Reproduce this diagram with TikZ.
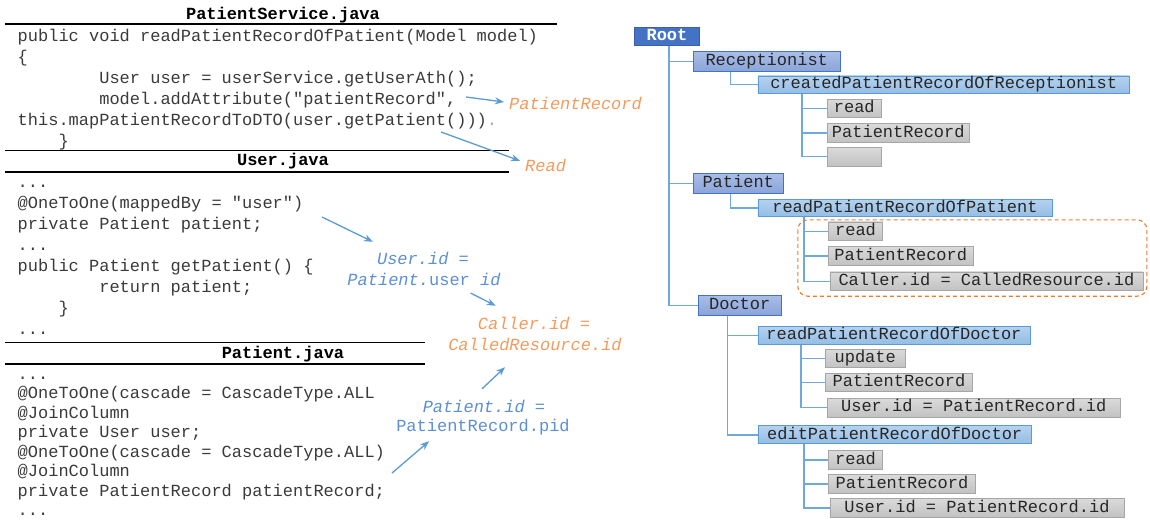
\documentclass[tikz,border=0pt]{standalone}
\usepackage{fontspec}
\setmonofont{Liberation Mono}
\usetikzlibrary{arrows.meta}

\definecolor{codegray}{HTML}{3A3A3A}
\definecolor{noteblue}{HTML}{5B8FD6}
\definecolor{noteorange}{HTML}{F59A5C}
\definecolor{linkblue}{HTML}{5B9BD5}
\definecolor{treeblue}{HTML}{6FA8DC}
\definecolor{rootblue}{HTML}{4472C4}
\definecolor{roletop}{HTML}{A9BDE6}
\definecolor{rolebot}{HTML}{8AA4D9}
\definecolor{roleedge}{HTML}{4472C4}
\definecolor{optop}{HTML}{B4D2EF}
\definecolor{opbot}{HTML}{95BDE4}
\definecolor{opedge}{HTML}{5B9BD5}
\definecolor{leaftop}{HTML}{DADADA}
\definecolor{leafbot}{HTML}{C2C2C2}
\definecolor{leafedge}{HTML}{A6A6A6}
\definecolor{focusorange}{HTML}{ED7D31}

\newcommand{\elide}{\mbox{...}}

\begin{document}
\begin{tikzpicture}[x=1pt, y=-1pt,
    every node/.style={font=\ttfamily\fontsize{17}{21}\selectfont},
    code/.style={anchor=base west, inner sep=0pt, text=codegray},
    head/.style={anchor=base, inner sep=0pt, font=\ttfamily\bfseries\fontsize{17}{21}\selectfont},
    rule/.style={line width=1.1pt},
    note/.style={anchor=base, inner sep=0pt, text height=12pt, text depth=4pt,
        font=\ttfamily\itshape\fontsize{17}{21}\selectfont},
    link/.style={draw=linkblue, line width=1.3pt, -{Stealth[length=9pt,width=7pt]}},
    box/.style={anchor=west, inner sep=0pt, text height=12pt, text depth=3.5pt,
        minimum height=18.5pt, line width=0.9pt, text=black!85},
    rootbox/.style={box, fill=rootblue, draw=rootblue!85!black, text=white,
        font=\ttfamily\bfseries\fontsize{17}{21}\selectfont},
    rolebox/.style={box, top color=roletop, bottom color=rolebot, draw=roleedge},
    opbox/.style={box, top color=optop, bottom color=opbot, draw=opedge},
    leafbox/.style={box, top color=leaftop, bottom color=leafbot, draw=leafedge},
    treeline/.style={draw=treeblue, line width=1.2pt},
    focus/.style={draw=focusorange, line width=1.1pt, dash pattern=on 4pt off 3pt, rounded corners=10pt}
]
    \useasboundingbox (0,0) rectangle (1150,520);

    % source listings
    \node[head] (hservice) at (283,19) {PatientService.java};
    \draw[rule] (5,24) -- (557,24);
    \foreach \t [count=\i from 0] in {%
        {public void readPatientRecordOfPatient(Model model)},
        {\{},
        {\phantom{xxxxxxxx}User user = userService.getUserAth();},
        {\phantom{xxxxxxxx}model.addAttribute("patientRecord",},
        {this.mapPatientRecordToDTO(user.getPatient())){\color{black!35}.}},
        {\phantom{xxxx}\}}}
        \node[code] (ps\i) at (17.5,41+21*\i) {\t};

    \draw[rule] (5,150.5) -- (509,150.5);
    \node[head] (huser) at (283,165) {User.java};
    \draw[rule] (5,172) -- (509,172);
    \foreach \t [count=\i from 0] in {%
        {\elide},
        {@OneToOne(mappedBy = "user")},
        {private Patient patient;},
        {\elide},
        {public Patient getPatient() \{},
        {\phantom{xxxxxxxx}return patient;},
        {\phantom{xxxx}\}},
        {\elide}}
        \node[code] (us\i) at (17.5,187+21*\i) {\t};

    \draw[rule] (5,342.5) -- (425,342.5);
    \node[head] (hpatient) at (283,358) {Patient.java};
    \draw[rule] (5,364) -- (425,364);
    \foreach \t [count=\i from 0] in {%
        {\elide},
        {@OneToOne(cascade = CascadeType.ALL},
        {@JoinColumn},
        {private User user;},
        {@OneToOne(cascade = CascadeType.ALL)},
        {@JoinColumn},
        {private PatientRecord patientRecord;},
        {\elide}}
        \node[code] (pa\i) at (17.5,379+19.5*\i) {\t};

    % mapping notes
    \node[note, anchor=base west, text=noteorange] (lrecord) at (509,109) {PatientRecord};
    \node[note, anchor=base west, text=noteorange] (lread) at (525,171) {Read};
    \node[note, text=noteblue] (luser) at (423,264) {User.id =};
    \node[note, text=noteblue] (luser2) at (424,285) {Patient.\textup{user} id};
    \node[note, text=noteorange] (lcaller) at (534,329) {Caller.id =};
    \node[note, text=noteorange] (lcaller2) at (535,350) {CalledResource.id};
    \node[note, text=noteblue] (lpid) at (484,412) {Patient.id =};
    \node[note, text=noteblue, font=\ttfamily\fontsize{17}{21}\selectfont] (lpid2) at (483,431) {PatientRecord.pid};

    \coordinate (fromAttr) at (466,97);
    \coordinate (fromCall) at (441,132);
    \coordinate (fromField) at (322,217);
    \coordinate (fromJoin) at (470.5,293);
    \coordinate (fromRecord) at (392,473);
    \draw[link] (fromAttr) -- ([shift={(-5pt,3pt)}]lrecord.west);
    \draw[link] (fromCall) -- ([shift={(-5pt,-2pt)}]lread.north west);
    \draw[link] (fromField) -- ([shift={(-4pt,10pt)}]luser.north west);
    \draw[link] (fromJoin) -- ([shift={(18pt,11pt)}]lcaller.north west);
    \draw[link] ([shift={(-2pt,11pt)}]lpid.north) -- ([shift={(-30pt,-13pt)}]lcaller2.south);
    \draw[link] (fromRecord) -- ([shift={(33pt,-6pt)}]lpid2.south west);

    % role tree
    \node[rootbox, minimum width=65pt] (root) at (634,36.4) {Root};
    \node[rolebox, minimum width=146.5pt, minimum height=20pt] (recep) at (693,61.7) {Receptionist};
    \node[opbox, minimum width=371.5pt, minimum height=17.5pt] (created) at (757.5,84.7) {createdPatientRecordOfReceptionist};
    \node[leafbox, minimum width=54pt] (cread) at (826.8,108.5) {read};
    \node[leafbox, minimum width=142pt] (crecord) at (826.8,132.9) {PatientRecord};
    \node[leafbox, minimum width=54pt] (cempty) at (826.8,156.7) {};

    \node[rolebox, minimum width=89.5pt, minimum height=20.5pt] (patient) at (693,183.4) {Patient};
    \node[opbox, minimum width=294pt, minimum height=17.5pt] (readpat) at (757.5,207.9) {readPatientRecordOfPatient};
    \node[leafbox, minimum width=54.5pt] (pread) at (827.8,231.2) {read};
    \node[leafbox, minimum width=145pt] (precord) at (827.8,255.9) {PatientRecord};
    \node[leafbox, minimum width=313pt] (pcaller) at (829.5,281.2) {Caller.id = CalledResource.id};

    \node[rolebox, minimum width=82.5pt, minimum height=20.5pt] (doctor) at (698,305.4) {Doctor};
    \node[opbox, minimum width=272pt, minimum height=18pt] (readdoc) at (757.5,335.2) {readPatientRecordOfDoctor};
    \node[leafbox, minimum width=79.5pt] (dupdate) at (825,358.3) {update};
    \node[leafbox, minimum width=147pt] (drecord) at (825,382.5) {PatientRecord};
    \node[leafbox, minimum width=293pt] (duser) at (826.8,407.7) {User.id = PatientRecord.id};
    \node[opbox, minimum width=273.5pt, minimum height=18pt] (editdoc) at (757.5,434.9) {editPatientRecordOfDoctor};
    \node[leafbox, minimum width=54.5pt] (eread) at (827.8,460) {read};
    \node[leafbox, minimum width=147.5pt] (erecord) at (827.8,483.9) {PatientRecord};
    \node[leafbox, minimum width=294pt] (euser) at (829.5,507.9) {User.id = PatientRecord.id};

    \draw[treeline] ([xshift=35pt]root.south west) |- (recep.west);
    \draw[treeline] ([xshift=35pt]root.south west) |- (patient.west);
    \draw[treeline] ([xshift=35pt]root.south west) |- (doctor.west);
    \draw[treeline] ([xshift=37.5pt]recep.south west) |- (created.west);
    \foreach \leaf in {cread,crecord,cempty}
        \draw[treeline] ([xshift=44.5pt]created.south west) |- (\leaf.west);
    \draw[treeline] ([xshift=37.5pt]patient.south west) |- (readpat.west);
    \foreach \leaf in {pread,precord,pcaller}
        \draw[treeline] ([xshift=46.5pt]readpat.south west) |- (\leaf.west);
    \draw[treeline] ([xshift=29.4pt]doctor.south west) |- (readdoc.west);
    \draw[treeline] ([xshift=29.4pt]doctor.south west) |- (editdoc.west);
    \foreach \leaf in {dupdate,drecord,duser}
        \draw[treeline] ([xshift=43.5pt]readdoc.south west) |- (\leaf.west);
    \foreach \leaf in {eread,erecord,euser}
        \draw[treeline] ([xshift=46.5pt]editdoc.south west) |- (\leaf.west);

    \draw[focus] ([shift={(-30pt,1.7pt)}]pread.north west) rectangle ([shift={(3.5pt,-5.3pt)}]pcaller.south east);
\end{tikzpicture}
\end{document}
